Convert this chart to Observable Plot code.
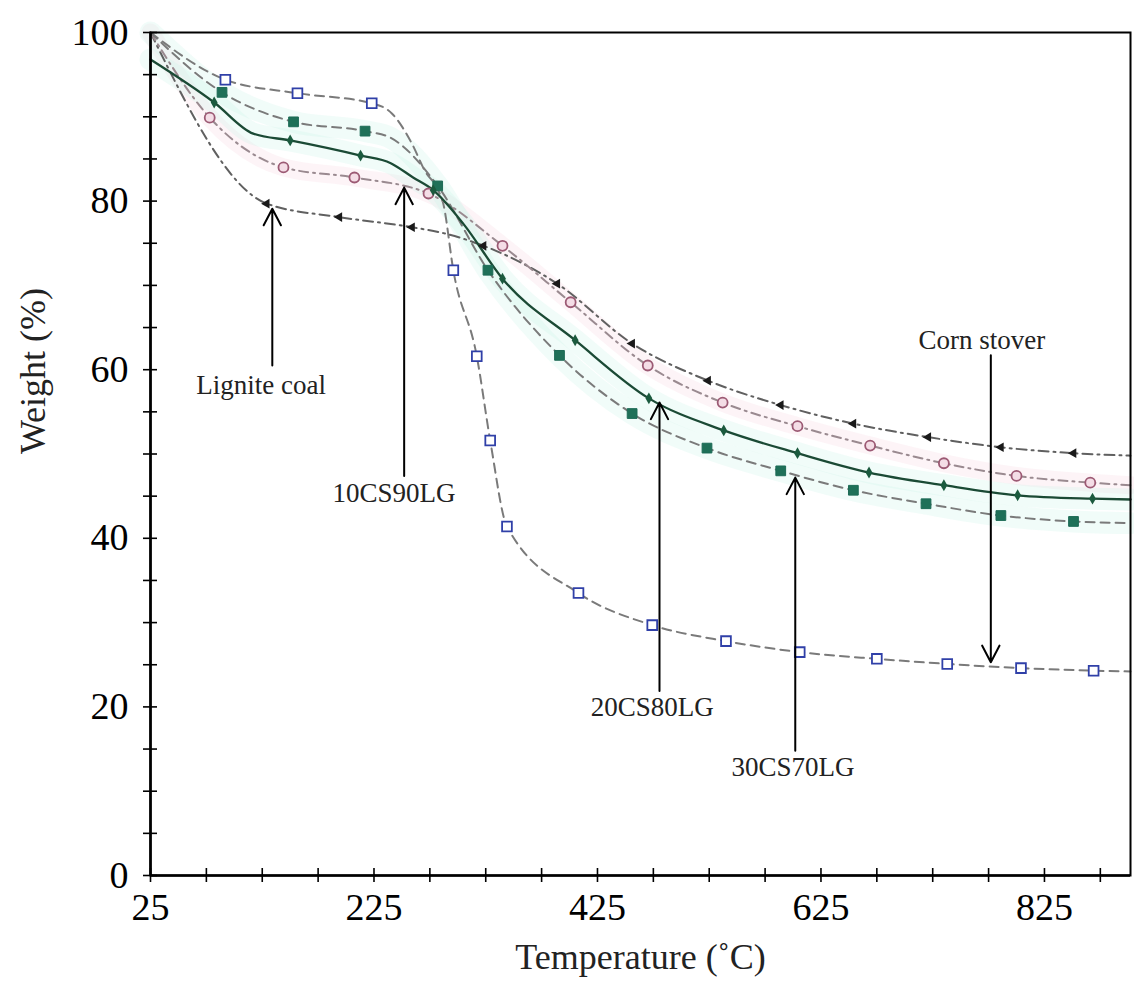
<!DOCTYPE html>
<html>
<head>
<meta charset="utf-8">
<script src="https://cdn.jsdelivr.net/npm/d3@7"></script>
<script src="https://cdn.jsdelivr.net/npm/@observablehq/plot@0.6"></script>
<style>
  html, body { margin: 0; padding: 0; background: white; }
</style>
</head>
<body>
<div id="chart"></div>
<script>
// ---- Data (Temperature °C, Weight %) ----
// Corn stover (blue open squares, dashed)
const cornT = [25, 92, 156.5, 223, 241, 259, 270.5, 282, 287, 296, 317, 329, 344, 408, 474, 540, 606, 675, 738, 804, 869, 902];
const cornW = [100, 94.4, 92.8, 91.6, 90.4, 86.8, 83.6, 81.4, 79.7, 71.8, 61.6, 51.6, 41.4, 33.5, 29.7, 27.8, 26.5, 25.7, 25.1, 24.6, 24.3, 24.2];
const cornM = [0, 1, 1, 1, 0, 0, 0, 0, 0, 1, 1, 1, 1, 1, 1, 1, 1, 1, 1, 1, 1, 0];

// Lignite coal (small black left arrows, dash-dot)
const ligT = [25, 129, 194, 259, 287, 323, 389, 456, 524, 589, 654, 721, 786, 851, 902];
const ligW = [100, 79.7, 78.1, 76.9, 76.2, 74.7, 70.2, 63.1, 58.7, 55.8, 53.6, 52.0, 50.8, 50.1, 49.8];
const ligM = [0, 1, 1, 1, 0, 1, 1, 1, 1, 1, 1, 1, 1, 1, 0];

// 10CS90LG (mauve open circles, dash-dot)
const b10T = [25, 78, 144, 207.5, 273.8, 340, 401, 470, 537, 604, 669, 735, 800, 866, 902];
const b10W = [100, 89.9, 84.0, 82.8, 80.9, 74.7, 68.0, 60.5, 56.1, 53.3, 51.0, 48.9, 47.4, 46.6, 46.3];
const b10M = [0, 1, 1, 1, 1, 1, 1, 1, 1, 1, 1, 1, 1, 1, 0];

// 20CS80LG (teal filled squares, dashed)
const b20T = [25, 89, 153, 217, 240, 282, 327, 391, 456, 523, 589, 654, 719, 786, 851, 902];
const b20W = [100, 92.9, 89.4, 88.3, 87.5, 81.8, 71.8, 61.7, 54.8, 50.7, 48.0, 45.7, 44.1, 42.7, 42.0, 41.8];
const b20M = [0, 1, 1, 1, 0, 1, 1, 1, 1, 1, 1, 1, 1, 1, 1, 0];

// 30CS70LG (solid dark green line, small dots)
const b30T = [25, 82, 117, 150, 213, 240, 260, 278, 305, 340, 405, 471, 538, 604, 668, 735, 801, 868, 902];
const b30W = [96.8, 91.7, 88.0, 87.2, 85.4, 84.5, 82.8, 81.3, 77.3, 70.8, 63.5, 56.6, 52.8, 50.1, 47.8, 46.3, 45.1, 44.7, 44.6];
const b30M = [0, 1, 0, 1, 1, 0, 0, 1, 0, 1, 1, 1, 1, 1, 1, 1, 1, 1, 0];

// Annotations
const annLabel = ["Lignite coal", "10CS90LG", "20CS80LG", "30CS70LG", "Corn stover"];
const annTextT = [124, 243, 474, 600, 769];
const annTextW = [58.2, 45.3, 19.9, 12.8, 63.5];
const annArrowT = [134, 252, 480.5, 602, 777];
const annFromW = [60.5, 47.4, 21.9, 14.8, 61.7];
const annToW = [79.1, 81.6, 56.1, 47.2, 25.3];

// Axis ticks
const xLabelTicks = [25, 225, 425, 625, 825];
const xMinorTicks = [25, 75, 125, 175, 225, 275, 325, 375, 425, 475, 525, 575, 625, 675, 725, 775, 825, 875];
const yLabelTicks = [0, 20, 40, 60, 80, 100];
const yMinorTicks = [0, 5, 10, 15, 20, 25, 30, 35, 40, 45, 50, 55, 60, 65, 70, 75, 80, 85, 90, 95, 100];

// ---- Build tables ----
const rows = (T, W, M) => T.map((t, i) => ({T: t, W: W[i], m: M[i]}));
const corn = rows(cornT, cornW, cornM);
const lig = rows(ligT, ligW, ligM);
const b10 = rows(b10T, b10W, b10M);
const b20 = rows(b20T, b20W, b20M);
const b30 = rows(b30T, b30W, b30M);
const marks = d => d.filter(r => r.m);
const ann = annLabel.map((l, i) => ({label: l, tx: annTextT[i], ty: annTextW[i], ax: annArrowT[i], y1: annFromW[i], y2: annToW[i]}));

const curve = "monotone-x";
const gray = "#7a7a7a";

const chart = Plot.plot({
  width: 1134,
  height: 989,
  marginLeft: 150,
  marginRight: 4,
  marginTop: 32,
  marginBottom: 114,
  style: {fontFamily: "'Liberation Serif', 'DejaVu Serif', serif", color: "black", background: "white"},
  x: {domain: [25, 902]},
  y: {domain: [0, 100]},
  marks: [
    // soft halos
    Plot.line(b10, {x: "T", y: "W", curve, stroke: "#f6d3df", strokeWidth: 18, strokeOpacity: 0.25}),
    Plot.line(b30, {x: "T", y: "W", curve, stroke: "#c6f3e8", strokeWidth: 22, strokeOpacity: 0.25}),
    Plot.line(b20, {x: "T", y: "W", curve, stroke: "#c6f3e8", strokeWidth: 22, strokeOpacity: 0.25}),

    // lines
    Plot.line(corn, {x: "T", y: "W", curve, stroke: gray, strokeWidth: 2, strokeDasharray: "9,6"}),
    Plot.line(lig, {x: "T", y: "W", curve, stroke: "#606060", strokeWidth: 2, strokeDasharray: "10,5,2,5"}),
    Plot.line(b10, {x: "T", y: "W", curve, stroke: "#9a8a90", strokeWidth: 2, strokeDasharray: "9,5,2,5"}),
    Plot.line(b20, {x: "T", y: "W", curve, stroke: gray, strokeWidth: 2, strokeDasharray: "9,6"}),
    Plot.line(b30, {x: "T", y: "W", curve, stroke: "#1b4a35", strokeWidth: 2.3}),

    // markers
    Plot.dot(marks(corn), {x: "T", y: "W", symbol: "square", r: 5.5, stroke: "#3040a8", fill: "white", strokeWidth: 1.8}),
    Plot.dot(marks(b10), {x: "T", y: "W", symbol: "circle", r: 5, stroke: "#9c5a74", fill: "#f4dde6", strokeWidth: 1.8}),
    Plot.dot(marks(b20), {x: "T", y: "W", symbol: "square", r: 5.5, stroke: "#1d6b56", fill: "#1f7058", strokeWidth: 1}),
    Plot.dot(marks(lig), {x: "T", y: "W", symbol: "triangle", rotate: -90, r: 3.6, fill: "#1a1a1a", stroke: "none"}),
    Plot.dot(marks(b30), {x: "T", y: "W", symbol: "diamond", r: 3.6, fill: "#1b5a3e", stroke: "none"}),

    // annotations
    Plot.arrow(ann, {x1: "ax", y1: "y1", x2: "ax", y2: "y2", stroke: "black", strokeWidth: 2, headLength: 14, headAngle: 55}),
    Plot.text(ann, {x: "tx", y: "ty", text: "label", fontSize: 27, fill: "#222", stroke: "white", strokeWidth: 4, paintOrder: "stroke"}),

    // axes
    Plot.axisX({ticks: xMinorTicks, tickSize: 7, text: null, label: null, strokeWidth: 1.6}),
    Plot.axisX({ticks: xMinorTicks, tickSize: -7, text: null, label: null, strokeWidth: 1.6}),
    Plot.axisX({ticks: xLabelTicks, tickSize: 0, tickPadding: 18, fontSize: 38, label: null}),
    Plot.axisY({ticks: yMinorTicks, tickSize: 7, text: null, label: null, strokeWidth: 1.6}),
    Plot.axisY({ticks: yMinorTicks, tickSize: -7, text: null, label: null, strokeWidth: 1.6}),
    Plot.axisY({ticks: yLabelTicks, tickSize: 0, tickPadding: 22, fontSize: 38, label: null}),
    Plot.frame({stroke: "black", strokeWidth: 2}),
    Plot.ruleX([25], {stroke: "black", strokeWidth: 2.6}),
    Plot.ruleY([0], {stroke: "black", strokeWidth: 2.6}),

    // axis titles
    Plot.text(["Temperature (˚C)"], {frameAnchor: "bottom", dy: 93, fontSize: 36, fill: "#222"}),
    Plot.text(["Weight (%)"], {frameAnchor: "left", dx: -117, rotate: -90, fontSize: 36, fill: "#222"})
  ]
});
document.getElementById("chart").appendChild(chart);
</script>
</body>
</html>
